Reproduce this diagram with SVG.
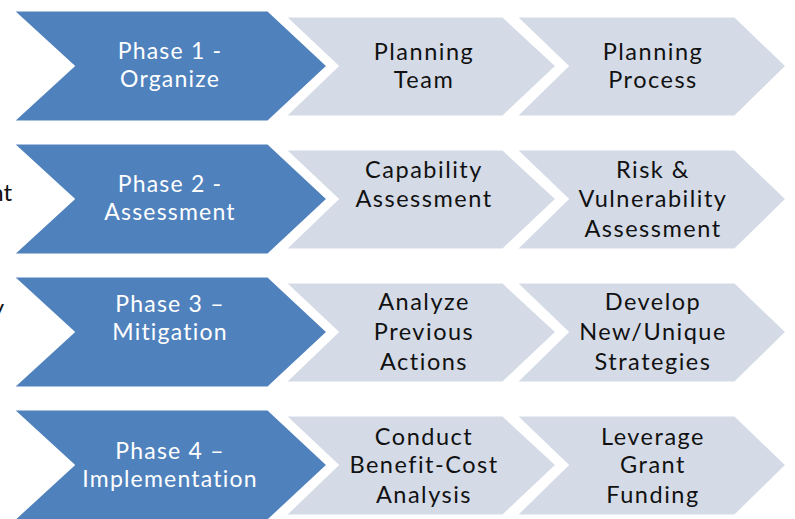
<svg xmlns="http://www.w3.org/2000/svg" width="795" height="519" viewBox="0 0 795 519">
<style>
.phase{fill:#4F81BD;stroke:#FFFFFF;stroke-width:3;stroke-linejoin:miter}
.step{fill:#D4DBE7;stroke:#FFFFFF;stroke-width:3;stroke-linejoin:miter}
.pt{font-family:Lato,"Open Sans",sans-serif;font-size:23px;letter-spacing:1.2px;fill:#FFFFFF;text-anchor:middle}
.st{font-family:Lato,"Open Sans",sans-serif;font-size:23.5px;letter-spacing:1.5px;fill:#111111;text-anchor:middle}
.cut{font-family:Lato,"Open Sans",sans-serif;font-size:24px;fill:#111111;text-anchor:end}
</style>
<rect width="795" height="519" fill="#FFFFFF"/>
<g id="margin-text">
<text class="cut" x="12" y="201">nt</text>
<text class="cut" x="4" y="316">y</text>
</g>
<g id="connectors"></g>

<g id="row1">
<g id="r1-step2"><polygon class="step" points="515,16 735,16 787,66 735,117 515,117 567,66"/>
<text class="st" x="653" y="60">Planning</text><text class="st" x="653" y="88">Process</text></g>
<g id="r1-step1"><polygon class="step" points="284,16 503,16 557,66 503,117 284,117 337,66"/>
<text class="st" x="424" y="60">Planning</text><text class="st" x="424" y="88">Team</text></g>
<g id="r1-phase"><polygon class="phase" points="12,10 268,10 328,66 268,122 12,122 73,66"/>
<text class="pt" x="170" y="59">Phase 1 -</text><text class="pt" x="170" y="87">Organize</text></g>
</g>

<g id="row2">
<g id="r2-step2"><polygon class="step" points="515,149 735,149 787,199 735,250 515,250 567,199"/>
<text class="st" x="653" y="178">Risk &amp;</text><text class="st" x="653" y="207">Vulnerability</text><text class="st" x="653" y="237">Assessment</text></g>
<g id="r2-step1"><polygon class="step" points="284,149 503,149 557,199 503,250 284,250 337,199"/>
<text class="st" x="424" y="178">Capability</text><text class="st" x="424" y="207">Assessment</text></g>
<g id="r2-phase"><polygon class="phase" points="12,143 268,143 328,199 268,255 12,255 73,199"/>
<text class="pt" x="170" y="192">Phase 2 -</text><text class="pt" x="170" y="220">Assessment</text></g>
</g>

<g id="row3">
<g id="r3-step2"><polygon class="step" points="515,282 735,282 787,332 735,383 515,383 567,332"/>
<text class="st" x="653" y="310">Develop</text><text class="st" x="653" y="340">New/Unique</text><text class="st" x="653" y="370">Strategies</text></g>
<g id="r3-step1"><polygon class="step" points="284,282 503,282 557,332 503,383 284,383 337,332"/>
<text class="st" x="424" y="310">Analyze</text><text class="st" x="424" y="340">Previous</text><text class="st" x="424" y="370">Actions</text></g>
<g id="r3-phase"><polygon class="phase" points="12,276 268,276 328,332 268,388 12,388 73,332"/>
<text class="pt" x="170" y="312">Phase 3 –</text><text class="pt" x="170" y="340">Mitigation</text></g>
</g>

<g id="row4">
<g id="r4-step2"><polygon class="step" points="515,415 735,415 787,465 735,516 515,516 567,465"/>
<text class="st" x="653" y="445">Leverage</text><text class="st" x="653" y="473">Grant</text><text class="st" x="653" y="503">Funding</text></g>
<g id="r4-step1"><polygon class="step" points="284,415 503,415 557,465 503,516 284,516 337,465"/>
<text class="st" x="424" y="445">Conduct</text><text class="st" x="424" y="473">Benefit-Cost</text><text class="st" x="424" y="503">Analysis</text></g>
<g id="r4-phase"><polygon class="phase" points="12,409 268,409 328,465 268,521 12,521 73,465"/>
<text class="pt" x="170" y="459">Phase 4 –</text><text class="pt" x="170" y="487">Implementation</text></g>
</g>
</svg>
